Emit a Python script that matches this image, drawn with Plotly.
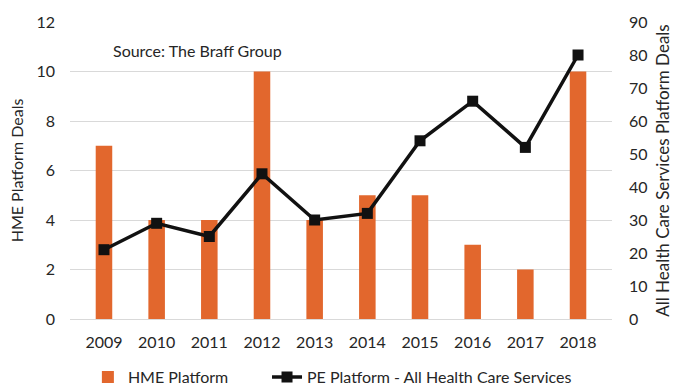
import plotly.graph_objects as go

years = ["2009", "2010", "2011", "2012", "2013", "2014", "2015", "2016", "2017", "2018"]
hme_platform = [7, 4, 4, 10, 4, 5, 5, 3, 2, 10]
pe_platform = [21, 29, 25, 44, 30, 32, 54, 66, 52, 80]

FONT = "Lato"
TXT = "#262626"

fig = go.Figure()
fig.add_trace(go.Bar(
    x=years, y=hme_platform, name="HME Platform",
    marker=dict(color="#E2672D", line=dict(width=0)), width=0.314, yaxis="y",
    legend="legend",
))
fig.add_trace(go.Scatter(
    x=years, y=pe_platform, name="PE Platform - All Health Care Services",
    mode="lines+markers", line=dict(color="#111111", width=3.5),
    marker=dict(symbol="square", size=11, color="#111111"), yaxis="y2",
    legend="legend2",
))

legend_common = dict(orientation="h", y=-0.196, yanchor="middle", xanchor="left",
                     font=dict(size=16, color=TXT), itemwidth=30, bgcolor="rgba(0,0,0,0)")

fig.update_layout(
    width=676, height=388,
    margin=dict(l=70, r=64, t=22, b=69, autoexpand=False),
    paper_bgcolor="white", plot_bgcolor="white",
    font=dict(family=FONT, size=16, color=TXT),
    showlegend=True,
    legend=dict(x=0.033, **legend_common),
    legend2=dict(x=0.3635, **legend_common),
    xaxis=dict(type="category", showgrid=False, showline=False, ticks="",
               tickfont=dict(size=16, color=TXT), ticklabelstandoff=12),
    yaxis=dict(range=[0, 12], dtick=2, showgrid=True, gridcolor="#D9D9D9", gridwidth=1,
               zeroline=True, zerolinecolor="#D9D9D9", zerolinewidth=1,
               showline=False, ticks="", tickfont=dict(size=16, color=TXT),
               ticklabelstandoff=14,
               title=dict(text="HME Platform Deals", font=dict(size=16, color=TXT), standoff=8)),
    yaxis2=dict(range=[0, 90], dtick=10, overlaying="y", side="right", showgrid=False,
                zeroline=False, showline=False, ticks="", tickfont=dict(size=16, color=TXT),
                ticklabelstandoff=16,
                title=dict(text="All Health Care Services Platform Deals",
                           font=dict(size=17, color=TXT), standoff=10)),
    annotations=[dict(text="Source: The Braff Group", xref="paper", yref="paper",
                      x=(111 - 70) / 542, y=(319 - 50) / 297, xanchor="left", yanchor="middle",
                      showarrow=False, font=dict(size=16, color=TXT))],
)

fig.write_html("out.html")
